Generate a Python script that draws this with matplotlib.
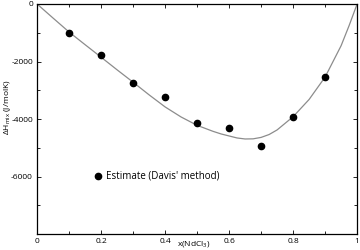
import numpy as np
import matplotlib
matplotlib.use("Agg")
import matplotlib.pyplot as plt
from matplotlib.ticker import FixedLocator, MultipleLocator

# Estimated enthalpy of mixing points (Davis' method)
x_est = [0.1, 0.2, 0.3, 0.4, 0.5, 0.6, 0.7, 0.8, 0.9]
h_est = [-1000, -1770, -2750, -3230, -4140, -4310, -4940, -3920, -2540]

# Model curve
x_fit = [0.0, 0.05, 0.1, 0.15, 0.2, 0.25, 0.3, 0.35, 0.4, 0.45, 0.5, 0.55,
         0.575, 0.6, 0.625, 0.65, 0.675, 0.7, 0.725, 0.75, 0.8, 0.85, 0.9,
         0.95, 0.975, 1.0]
h_fit = [0, -490, -975, -1415, -1850, -2290, -2720, -3160, -3580, -3930,
         -4220, -4430, -4520, -4590, -4660, -4695, -4690, -4640, -4540,
         -4380, -3920, -3320, -2540, -1450, -750, 0]

xticks = [0, 0.2, 0.4, 0.6, 0.8, 1.0]
xticklabels = ["0", "0.2", "0.4", "0.6", "0.8", "1"]
yticks = [-6000, -4000, -2000, 0]

plt.rcParams['font.family'] = ['Open Sans', 'DejaVu Sans']
plt.rcParams['axes.unicode_minus'] = False
plt.rcParams['mathtext.fontset'] = 'custom'
plt.rcParams['mathtext.rm'] = 'Open Sans'

fig = plt.figure(figsize=(3.6, 2.5), dpi=100)
ax = fig.add_axes([0.103, 0.064, 0.889, 0.92])

ax.plot(x_fit, h_fit, color='#8c8c8c', lw=0.9)
ax.plot(x_est, h_est, 'o', color='black', ms=4.5, lw=0,
        label="Estimate (Davis' method)")

ax.set_xlim(0, 1)
ax.set_ylim(-8000, 0)
ax.xaxis.set_major_locator(FixedLocator(xticks))
ax.set_xticklabels(xticklabels)
ax.xaxis.set_minor_locator(MultipleLocator(0.1))
ax.yaxis.set_major_locator(FixedLocator(yticks))
ax.yaxis.set_minor_locator(MultipleLocator(1000))

ax.tick_params(which='both', direction='in', top=True, right=True,
               labelsize=6, pad=3, width=0.6)
ax.tick_params(which='major', length=3)
ax.tick_params(which='minor', length=2.5)
for s in ax.spines.values():
    s.set_linewidth(0.9)

ax.set_xlabel('x(NdCl$_{\\rm 3}$)', fontsize=6)
ax.xaxis.set_label_coords(0.49, -0.02)
ax.set_ylabel('ΔH$_{\\rm mix}$ (J/molK)', fontsize=6)
ax.yaxis.set_label_coords(-0.075, 0.55)

ax.legend(loc='center left', bbox_to_anchor=(0.175, 0.25), frameon=False,
          fontsize=7, handlelength=1.0, handletextpad=0.3, borderpad=0,
          borderaxespad=0)

fig.savefig('out.png', dpi=100)
